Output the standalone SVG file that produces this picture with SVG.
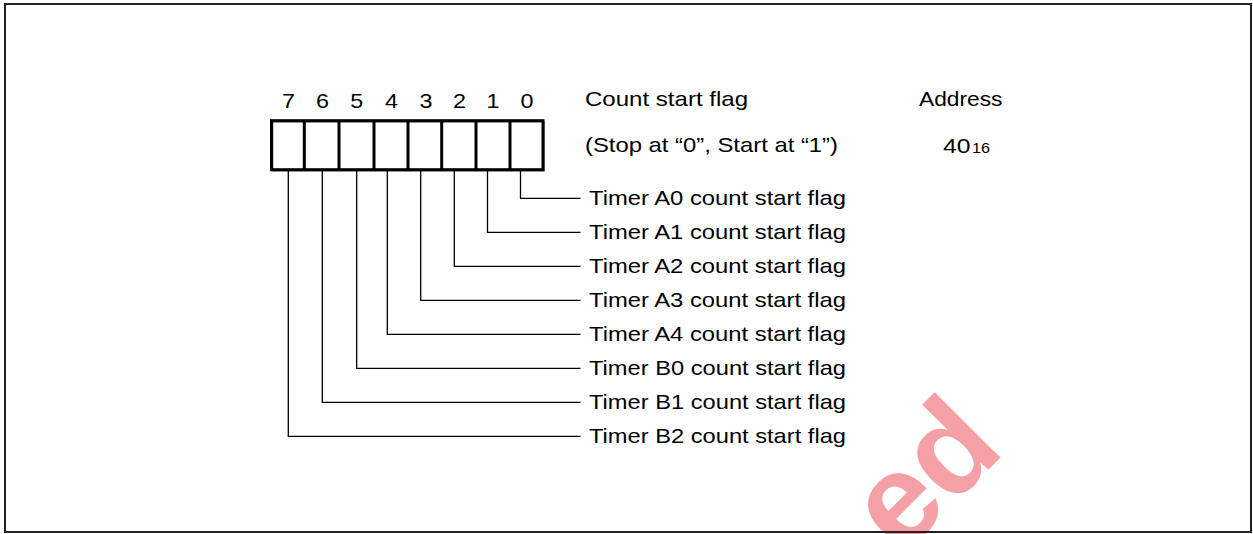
<svg xmlns="http://www.w3.org/2000/svg" width="1253" height="534" viewBox="0 0 1253 534">
<style>
  text { font-family: "Liberation Sans", Arial, sans-serif; fill: #000; }
  .lbl { font-size: 21px; }
  .bit { font-size: 21px; text-anchor: middle; }
  .reg { fill: none; stroke: #000; stroke-width: 3; }
  .shadow { fill: none; stroke: #999; stroke-width: 2; }
  .conn { fill: none; stroke: #000; stroke-width: 1.3; }
  .wm { font-family: "Liberation Sans", Arial, sans-serif; font-weight: bold; font-size: 128px; fill: #f4a0a6; }
</style>
<rect x="0" y="0" width="1253" height="534" fill="#fff"/>
<text class="wm" transform="translate(1006.5,451.5) rotate(-45)" text-anchor="end">ed</text>
<rect x="5" y="4" width="1246" height="528" fill="none" stroke="#222" stroke-width="2"/>

<g id="register">
  <rect class="shadow" x="272.5" y="121.7" width="271.5" height="49"/>
  <rect class="reg" x="271.5" y="120.7" width="271.5" height="49"/>
  <path class="reg" d="M304.3 120.7V169.7M339 120.7V169.7M374 120.7V169.7M408 120.7V169.7M441.7 120.7V169.7M476 120.7V169.7M510 120.7V169.7"/>
  <text class="bit" x="288.5" y="108" textLength="13" lengthAdjust="spacingAndGlyphs">7</text>
  <text class="bit" x="322.5" y="108" textLength="13" lengthAdjust="spacingAndGlyphs">6</text>
  <text class="bit" x="356.7" y="108" textLength="13" lengthAdjust="spacingAndGlyphs">5</text>
  <text class="bit" x="391.5" y="108" textLength="13" lengthAdjust="spacingAndGlyphs">4</text>
  <text class="bit" x="426" y="108" textLength="13" lengthAdjust="spacingAndGlyphs">3</text>
  <text class="bit" x="459.5" y="108" textLength="13" lengthAdjust="spacingAndGlyphs">2</text>
  <text class="bit" x="493" y="108" textLength="13" lengthAdjust="spacingAndGlyphs">1</text>
  <text class="bit" x="527" y="108" textLength="13" lengthAdjust="spacingAndGlyphs">0</text>
</g>

<g id="header">
  <text class="lbl" x="585" y="106" textLength="163" lengthAdjust="spacingAndGlyphs">Count start flag</text>
  <text class="lbl" x="585" y="152" textLength="253" lengthAdjust="spacingAndGlyphs">(Stop at “0”, Start at “1”)</text>
  <text class="lbl" x="919" y="105.5" textLength="83.5" lengthAdjust="spacingAndGlyphs">Address</text>
  <text class="lbl" x="943" y="153" textLength="27.5" lengthAdjust="spacingAndGlyphs">40</text>
  <text x="972" y="153" font-size="15" textLength="18" lengthAdjust="spacingAndGlyphs">16</text>
</g>

<g id="connectors">
  <path class="conn" d="M520.5 171V198.3H580.5"/>
  <path class="conn" d="M487.5 171V232.3H580.5"/>
  <path class="conn" d="M454.3 171V266.3H580.5"/>
  <path class="conn" d="M420.7 171V300.3H580.5"/>
  <path class="conn" d="M387.3 171V334.3H580.5"/>
  <path class="conn" d="M356.7 171V368.3H580.5"/>
  <path class="conn" d="M322.3 171V402.3H580.5"/>
  <path class="conn" d="M288.3 171V436.3H580.5"/>
</g>

<g id="flag-a0"><text class="lbl" x="589" y="205.3" textLength="257" lengthAdjust="spacingAndGlyphs">Timer A0 count start flag</text></g>
<g id="flag-a1"><text class="lbl" x="589" y="239.3" textLength="257" lengthAdjust="spacingAndGlyphs">Timer A1 count start flag</text></g>
<g id="flag-a2"><text class="lbl" x="589" y="273.3" textLength="257" lengthAdjust="spacingAndGlyphs">Timer A2 count start flag</text></g>
<g id="flag-a3"><text class="lbl" x="589" y="307.3" textLength="257" lengthAdjust="spacingAndGlyphs">Timer A3 count start flag</text></g>
<g id="flag-a4"><text class="lbl" x="589" y="341.3" textLength="257" lengthAdjust="spacingAndGlyphs">Timer A4 count start flag</text></g>
<g id="flag-b0"><text class="lbl" x="589" y="375.3" textLength="257" lengthAdjust="spacingAndGlyphs">Timer B0 count start flag</text></g>
<g id="flag-b1"><text class="lbl" x="589" y="409.3" textLength="257" lengthAdjust="spacingAndGlyphs">Timer B1 count start flag</text></g>
<g id="flag-b2"><text class="lbl" x="589" y="443.3" textLength="257" lengthAdjust="spacingAndGlyphs">Timer B2 count start flag</text></g>
</svg>
